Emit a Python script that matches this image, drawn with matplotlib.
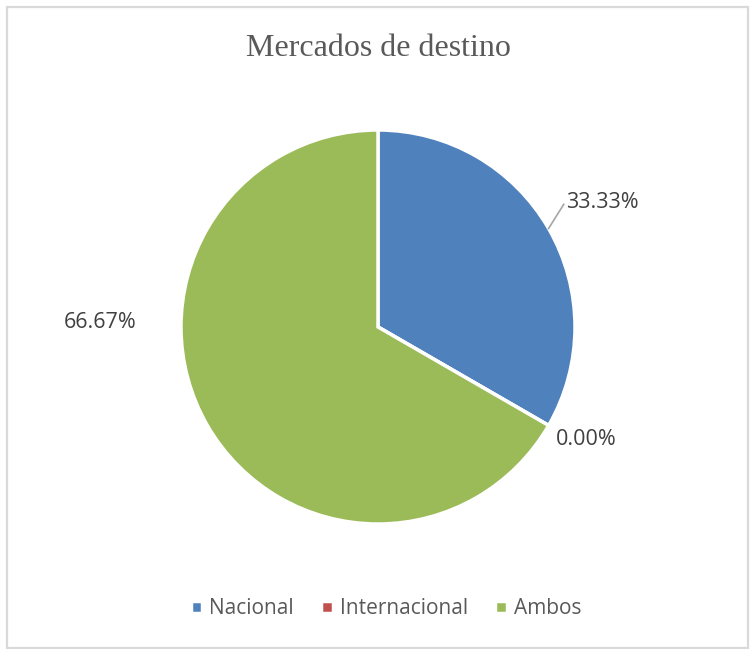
import numpy as np
import matplotlib.pyplot as plt
from matplotlib.patches import Rectangle

# datos del grafico
categorias = ['Nacional', 'Internacional', 'Ambos']
porcentajes = [33.33, 0.00, 66.67]
colores = ['#4F81BD', '#C0504D', '#9BBB59']

W, H = 751, 649
fig = plt.figure(figsize=(W / 100, H / 100), dpi=100)

# marco gris alrededor del grafico
fig.patches.append(Rectangle((7 / W, 1 / H), 741 / W, (H - 8) / H, transform=fig.transFigure,
                             fill=False, edgecolor='#D9D9D9', linewidth=1.6))

cx, cy, r = 378, 327, 197
ax = fig.add_axes([(cx - r) / W, (H - cy - r) / H, 2 * r / W, 2 * r / H])
wedges, _ = ax.pie(porcentajes, colors=colores, startangle=90, counterclock=False,
                   radius=1, wedgeprops=dict(edgecolor='white', linewidth=2.5))
ax.set_xlim(-1, 1)
ax.set_ylim(-1, 1)
ax.set_aspect('equal')
ax.axis('off')

# posicion de etiquetas (desplazamiento angular y distancia)
ajuste_ang = [-1, 1.5, -31]
distancia = [1.30, 1.20, 1.41]
for w, p, da, d in zip(wedges, porcentajes, ajuste_ang, distancia):
    ang = np.deg2rad((w.theta1 + w.theta2) / 2 + da)
    ax.text(d * np.cos(ang), d * np.sin(ang), f'{p:.2f}%', ha='center', va='center',
            fontsize=15.5, color='#404040', family='Open Sans', clip_on=False)

# linea guia para 33.33%
a0 = np.deg2rad((wedges[0].theta1 + wedges[0].theta2) / 2)
ax.plot([1.0 * np.cos(a0), 1.13 * np.cos(a0 + 0.06)], [1.0 * np.sin(a0), 1.13 * np.sin(a0 + 0.06)],
        color='#A6A6A6', linewidth=1.2, clip_on=False)

fig.text(378 / W, 1 - 48 / H, 'Mercados de destino', ha='center', va='center',
         fontsize=23, color='#595959', family='Liberation Serif')

leg = fig.legend(wedges, categorias, loc='center', bbox_to_anchor=(386 / W, 1 - 609 / H),
                 ncol=3, frameon=False, handlelength=0.55, handleheight=0.55,
                 handletextpad=0.35, columnspacing=1.3,
                 prop=dict(family='Open Sans', size=15))
for t in leg.get_texts():
    t.set_color('#595959')

fig.savefig('out.png', dpi=100)
